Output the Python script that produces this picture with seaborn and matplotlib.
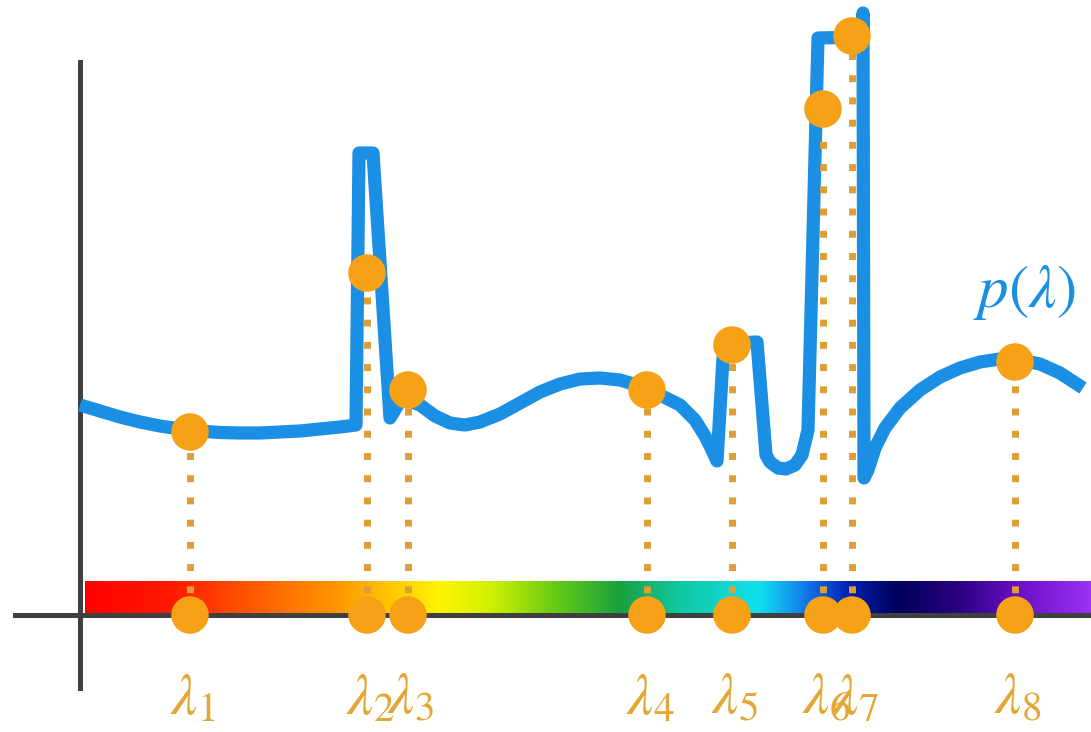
import numpy as np
import matplotlib
matplotlib.use("Agg")
import matplotlib.pyplot as plt
from matplotlib.colors import LinearSegmentedColormap
import seaborn as sns

# spectral power curve p(lambda) (arbitrary units)
curve_lam = [0.00, 0.20, 0.40, 0.60, 0.80, 1.00, 1.20, 1.40, 1.60, 1.80,
             2.00, 2.20, 2.40, 2.60, 2.76,
             2.79, 2.93, 3.10, 3.22,
             3.40, 3.55, 3.70, 3.85, 4.00, 4.20, 4.40, 4.60, 4.80, 5.00,
             5.20, 5.40, 5.60, 5.80, 6.00, 6.15, 6.25, 6.32, 6.37,
             6.43, 6.55, 6.77, 6.86, 6.90, 6.98, 7.06, 7.15, 7.22, 7.28,
             7.38, 7.83, 7.83, 7.84,
             7.88, 7.95, 8.05, 8.20, 8.40, 8.60, 8.80, 9.00, 9.20, 9.40,
             9.60, 9.80, 10.03]
curve_p = [2.10, 2.04, 1.98, 1.93, 1.89, 1.86, 1.84, 1.825, 1.82, 1.82,
           1.83, 1.84, 1.86, 1.88, 1.90,
           4.62, 4.62, 1.97, 2.17,
           2.10, 1.99, 1.92, 1.90, 1.93, 2.01, 2.12, 2.23, 2.31, 2.36,
           2.37, 2.35, 2.29, 2.20, 2.10, 1.95, 1.79, 1.65, 1.54,
           2.57, 2.72, 2.73, 1.60, 1.53, 1.47, 1.46, 1.50, 1.60, 1.85,
           5.77, 5.78, 6.02, 1.37,
           1.45, 1.67, 1.87, 2.07, 2.25, 2.38, 2.47, 2.53, 2.56, 2.55,
           2.51, 2.42, 2.27]

# sampled wavelengths and the curve value at each
sample_lam = [1.10, 2.87, 3.28, 5.67, 6.52, 7.43, 7.72, 9.35]
sample_p = [1.83, 3.42, 2.25, 2.25, 2.70, 5.06, 5.79, 2.53]
sample_labels = [r"$\lambda_{%d}$" % (i + 1) for i in range(len(sample_lam))]

# spectrum colour stops (fraction along the bar, colour)
spec_pos = [0.0, 0.085, 0.174, 0.253, 0.313, 0.353, 0.403, 0.472, 0.532,
            0.591, 0.671, 0.721, 0.760, 0.810, 0.870, 0.929, 1.0]
spec_col = ["#FF0000", "#FF1A00", "#FF6000", "#FF9A00", "#FFD000", "#FFF500",
            "#D0F000", "#60C818", "#18A040", "#10C8A0", "#10E0F0", "#1070E8",
            "#0020B0", "#00005A", "#2A0080", "#6A10C8", "#9A30F0"]

BLUE = "#1A8FE3"
ORANGE = "#F7A116"
DOTS = "#DF9D35"
LABEL = "#E4A634"

sns.set_style("white")
plt.rcParams["mathtext.fontset"] = "stix"

fig = plt.figure(figsize=(10.91, 7.32), dpi=100)
ax = fig.add_axes([0, 0, 1, 1])

# spectrum bar along the wavelength axis
cmap = LinearSegmentedColormap.from_list("spec", list(zip(spec_pos, spec_col)))
ax.imshow(np.linspace(0, 1, 512)[None, :], cmap=cmap, aspect="auto",
          extent=(0.05, 10.11, 0.0, 0.33), zorder=1)

# the curve
sns.lineplot(x=curve_lam, y=curve_p, sort=False, estimator=None, ax=ax,
             color=BLUE, linewidth=9.5, zorder=3)
ax.lines[-1].set_solid_joinstyle("round")
ax.lines[-1].set_solid_capstyle("butt")

# dotted drop lines
ax.vlines(sample_lam, 0, sample_p, colors=DOTS, linewidth=5,
          linestyles=[(0, (1, 2.2))], zorder=4)

# sample dots on curve and on axis
sns.scatterplot(x=sample_lam, y=sample_p, s=27 ** 2, color=ORANGE,
                edgecolor="none", ax=ax, zorder=6)
sns.scatterplot(x=sample_lam, y=[0] * len(sample_lam), s=27 ** 2, color=ORANGE,
                edgecolor="none", ax=ax, zorder=6)

for lam, lab in zip(sample_lam, sample_labels):
    ax.text(lam + 0.03, -0.99, lab, color=LABEL, fontsize=42,
            ha="center", va="baseline", zorder=7)

ax.text(9.45, 3.23, r"$p(\lambda)$", color=BLUE, fontsize=44,
        ha="center", va="center")

# axes drawn through the origin
for side in ["top", "right"]:
    ax.spines[side].set_visible(False)
ax.spines["left"].set_position(("data", 0))
ax.spines["bottom"].set_position(("data", 0))
ax.spines["left"].set_bounds(-0.73, 5.53)
ax.spines["bottom"].set_bounds(-0.65, 10.11)
for side in ["left", "bottom"]:
    ax.spines[side].set_color("#404040")
    ax.spines[side].set_linewidth(3.6)
    ax.spines[side].set_zorder(2)
ax.set_xticks([])
ax.set_yticks([])
ax.set_xlabel("")
ax.set_ylabel("")
ax.set_xlim(-0.80, 10.11)
ax.set_ylim(-1.17, 6.15)

fig.savefig("out.png", dpi=100)
